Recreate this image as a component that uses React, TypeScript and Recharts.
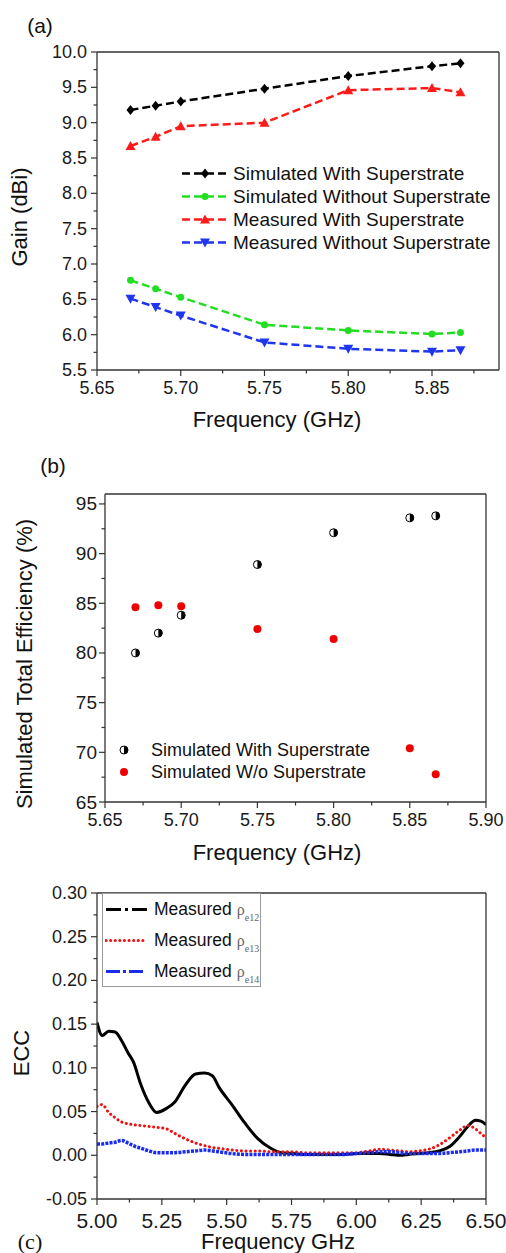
import React from 'react';
import { LineChart, Line, ScatterChart, Scatter, XAxis, YAxis, Legend } from 'recharts';

const FONT = 'Arial, "Liberation Sans", Helvetica, sans-serif';
const AXIS = '#333';

// (a) gain vs frequency
const gainFreq = [5.67, 5.685, 5.7, 5.75, 5.8, 5.85, 5.867];
const simWith = [9.18, 9.24, 9.3, 9.48, 9.66, 9.8, 9.84];
const simWithout = [6.77, 6.65, 6.53, 6.14, 6.06, 6.01, 6.03];
const measWith = [8.67, 8.8, 8.95, 9.0, 9.46, 9.49, 9.43];
const measWithout = [6.51, 6.39, 6.27, 5.89, 5.8, 5.76, 5.78];
const gainLabels = [
  'Simulated With Superstrate',
  'Simulated Without Superstrate',
  'Measured With Superstrate',
  'Measured Without Superstrate',
];
const gainXMajor = [5.65, 5.7, 5.75, 5.8, 5.85];
const gainXMinor = [5.675, 5.725, 5.775, 5.825, 5.875];
const gainYMajor = [5.5, 6.0, 6.5, 7.0, 7.5, 8.0, 8.5, 9.0, 9.5, 10.0];
const gainYMinor = [5.75, 6.25, 6.75, 7.25, 7.75, 8.25, 8.75, 9.25, 9.75];

// (b) simulated total efficiency
const effFreq = [5.67, 5.685, 5.7, 5.75, 5.8, 5.85, 5.867];
const effWith = [80.0, 82.0, 83.8, 88.9, 92.1, 93.6, 93.8];
const effWithout = [84.6, 84.8, 84.7, 82.4, 81.4, 70.4, 67.8];
const effLabels = ['Simulated With Superstrate', 'Simulated W/o Superstrate'];
const effXMajor = [5.65, 5.7, 5.75, 5.8, 5.85, 5.9];
const effXMinor = [5.675, 5.725, 5.775, 5.825, 5.875];
const effYMajor = [65, 70, 75, 80, 85, 90, 95];
const effYMinor = [67.5, 72.5, 77.5, 82.5, 87.5, 92.5];

// (c) envelope correlation coefficient
const eccFreq = [
  5.0, 5.02, 5.045, 5.07, 5.095, 5.12, 5.14, 5.17, 5.2, 5.23, 5.27, 5.3, 5.34, 5.38,
  5.415, 5.445, 5.47, 5.52, 5.57, 5.62, 5.67, 5.71, 5.76, 5.8, 5.85, 5.9, 5.95, 6.0,
  6.05, 6.09, 6.13, 6.17, 6.2, 6.24, 6.28, 6.32, 6.36, 6.4, 6.43, 6.46, 6.48, 6.5,
];
const ecc12 = [
  0.152, 0.137, 0.142, 0.141, 0.131, 0.117, 0.107, 0.08, 0.06, 0.049, 0.054, 0.061, 0.08, 0.093,
  0.094, 0.091, 0.078, 0.058, 0.037, 0.019, 0.008, 0.003, 0.002, 0.001, 0.001, 0.001, 0.001, 0.002,
  0.002, 0.002, 0.001, 0.0, 0.001, 0.002, 0.003, 0.005, 0.01, 0.022, 0.033, 0.04, 0.039, 0.035,
];
const ecc13 = [
  0.056, 0.058, 0.049, 0.043, 0.038, 0.036, 0.035, 0.034, 0.033, 0.032, 0.03, 0.025, 0.019, 0.014,
  0.011, 0.009, 0.008, 0.006, 0.005, 0.005, 0.004, 0.004, 0.004, 0.003, 0.003, 0.003, 0.003, 0.003,
  0.005, 0.007, 0.006, 0.005, 0.004, 0.005, 0.007, 0.012, 0.02, 0.029, 0.034, 0.03, 0.025, 0.02,
];
const ecc14 = [
  0.013, 0.013, 0.014, 0.015, 0.017, 0.014, 0.011, 0.008, 0.005, 0.003, 0.003, 0.003, 0.004, 0.005,
  0.006, 0.005, 0.004, 0.002, 0.001, 0.001, 0.001, 0.001, 0.001, 0.001, 0.001, 0.001, 0.001, 0.002,
  0.003, 0.004, 0.004, 0.003, 0.002, 0.002, 0.002, 0.002, 0.003, 0.004, 0.005, 0.006, 0.006, 0.006,
];
const eccSubs = ['e12', 'e13', 'e14'];
const eccXMajor = [5.0, 5.25, 5.5, 5.75, 6.0, 6.25, 6.5];
const eccXMinor = [5.125, 5.375, 5.625, 5.875, 6.125, 6.375];
const eccYMajor = [-0.05, 0, 0.05, 0.1, 0.15, 0.2, 0.25, 0.3];
const eccYMinor = [-0.025, 0.025, 0.075, 0.125, 0.175, 0.225, 0.275];

const gainData = gainFreq.map((f, i) => ({
  f,
  sw: simWith[i],
  swo: simWithout[i],
  mw: measWith[i],
  mwo: measWithout[i],
}));
const effWithData = effFreq.map((f, i) => ({ f, v: effWith[i] }));
const effWithoutData = effFreq.map((f, i) => ({ f, v: effWithout[i] }));
const eccData = eccFreq.map((f, i) => ({ f, a: ecc12[i], b: ecc13[i], c: ecc14[i] }));

const allTicks = (a: number[], b: number[]) => [...a, ...b].sort((x, y) => x - y);

type Side = 'left' | 'right' | 'bottom';

// draws tick marks (major/minor) and labels for majors
const makeTick =
  (side: Side, majors: number[], fmt: ((v: number) => string) | null, fontSize = 18, gap = 10) =>
  (props: any) => {
    const { x, y, payload, index } = props;
    const v = payload.value;
    const major = majors.some((m) => Math.abs(m - v) < 1e-6);
    const len = major ? 6 : 3.5;
    let line;
    let label = null;
    if (side === 'left') {
      line = <line x1={x} y1={y} x2={x - len} y2={y} />;
      if (major && fmt)
        label = (
          <text x={x - gap} y={y} textAnchor="end" dominantBaseline="central">
            {fmt(v)}
          </text>
        );
    } else if (side === 'right') {
      line = <line x1={x} y1={y} x2={x - len} y2={y} />;
    } else {
      line = <line x1={x} y1={y} x2={x} y2={y + len} />;
      if (major && fmt)
        label = (
          <text x={x} y={y + gap} textAnchor="middle" dominantBaseline="central">
            {fmt(v)}
          </text>
        );
    }
    return (
      <g key={index}>
        <g stroke={AXIS} strokeWidth={1.2}>{line}</g>
        <g fill="#1a1a1a" fontSize={fontSize} fontFamily={FONT}>{label}</g>
      </g>
    );
  };

const axisLine = { stroke: AXIS, strokeWidth: 1.3 };

const Diamond = ({ cx, cy, color }: any) => (
  <path d={`M${cx},${cy - 5} L${cx + 4},${cy} L${cx},${cy + 5} L${cx - 4},${cy} Z`} fill={color} />
);
const Dot = ({ cx, cy, color }: any) => <circle cx={cx} cy={cy} r={3.5} fill={color} />;
const TriUp = ({ cx, cy, color }: any) => (
  <path d={`M${cx},${cy - 5} L${cx + 5},${cy + 4} L${cx - 5},${cy + 4} Z`} fill={color} />
);
const TriDown = ({ cx, cy, color }: any) => (
  <path d={`M${cx},${cy + 5} L${cx + 5},${cy - 4} L${cx - 5},${cy - 4} Z`} fill={color} />
);
const HalfDot = ({ cx, cy }: any) => (
  <g>
    <circle cx={cx} cy={cy} r={4} fill="#fff" stroke="#000" strokeWidth={1} />
    <path d={`M ${cx} ${cy - 4} A 4 4 0 0 1 ${cx} ${cy + 4} Z`} fill="#000" />
  </g>
);
const RedDot = ({ cx, cy }: any) => <circle cx={cx} cy={cy} r={4} fill="#ee0000" />;

const gainSeries = [
  { key: 'sw', color: '#000000', Marker: Diamond },
  { key: 'swo', color: '#22dd22', Marker: Dot },
  { key: 'mw', color: '#ff1a1a', Marker: TriUp },
  { key: 'mwo', color: '#1f35ee', Marker: TriDown },
];

const eccSeries = [
  { key: 'a', color: '#000000', width: 3, dash: undefined, legendDash: '15 4 3 4 15' },
  { key: 'b', color: '#ee1111', width: 3, dash: '0.1 4.5', legendDash: '0.1 4.5' },
  { key: 'c', color: '#1a2cf0', width: 3.5, dash: '3 1.2', legendDash: '14 3 3 3 14' },
];

const GainLegend = () => (
  <div style={{ fontFamily: FONT, fontSize: 19, color: '#111' }}>
    {gainSeries.map((s, i) => (
      <div key={s.key} style={{ display: 'flex', alignItems: 'center', height: 23 }}>
        <svg width={46} height={23}>
          <line x1={0} y1={11.5} x2={46} y2={11.5} stroke={s.color} strokeWidth={2.5} strokeDasharray="8 4" />
          <s.Marker cx={23} cy={11.5} color={s.color} />
        </svg>
        <span style={{ marginLeft: 5, whiteSpace: 'nowrap' }}>{gainLabels[i]}</span>
      </div>
    ))}
  </div>
);

const EffLegend = () => (
  <div style={{ fontFamily: FONT, fontSize: 18, color: '#111' }}>
    {effLabels.map((l, i) => (
      <div key={l} style={{ display: 'flex', alignItems: 'center', height: 22 }}>
        <svg width={24} height={22}>{i === 0 ? <HalfDot cx={12} cy={11} /> : <RedDot cx={12} cy={11} />}</svg>
        <span style={{ marginLeft: 15, whiteSpace: 'nowrap' }}>{l}</span>
      </div>
    ))}
  </div>
);

const EccLegend = () => (
  <div
    style={{
      fontFamily: FONT,
      fontSize: 17.5,
      color: '#111',
      width: 157,
      height: 92,
      border: '1px solid #9a9a9a',
      background: '#fff',
    }}
  >
    {eccSeries.map((s, i) => (
      <div key={s.key} style={{ display: 'flex', alignItems: 'center', height: 31 }}>
        <svg width={44} height={31} style={{ marginLeft: 2 }}>
          <line x1={1} y1={15.5} x2={42} y2={15.5} stroke={s.color} strokeWidth={3} strokeDasharray={s.legendDash} strokeLinecap={s.key === 'b' ? 'round' : 'butt'} />
        </svg>
        <span style={{ marginLeft: 5, whiteSpace: 'nowrap' }}>Measured</span>
        <span style={{ marginLeft: 5, fontFamily: '"Liberation Serif", "Times New Roman", serif', color: '#666', fontSize: 16 }}>
          ρ<span style={{ fontSize: 10, position: 'relative', top: 6 }}>{eccSubs[i]}</span>
        </span>
      </div>
    ))}
  </div>
);

const Title = ({ x, y, text, rotate = false, size = 22, serif = false }: any) => (
  <div
    style={{
      position: 'absolute',
      left: x,
      top: y,
      transform: `translate(-50%, -50%)${rotate ? ' rotate(-90deg)' : ''}`,
      fontFamily: serif ? '"Liberation Serif", "Times New Roman", serif' : FONT,
      fontSize: size,
      lineHeight: `${size}px`,
      whiteSpace: 'nowrap',
      color: '#111',
    }}
  >
    {text}
  </div>
);

// shared axis props (1px-thick axis boxes so that they still get drawn)
const xBottom = (domain: number[], majors: number[], minors: number[], fmt: (v: number) => string, fs: number, gap: number) => ({
  dataKey: 'f',
  type: 'number' as const,
  domain,
  allowDataOverflow: true,
  ticks: allTicks(majors, minors),
  interval: 0,
  height: 1,
  tickSize: 0,
  tickMargin: 0,
  tickLine: false,
  axisLine,
  tick: makeTick('bottom', majors, fmt, fs, gap),
});

export default function App() {
  return (
    <div style={{ position: 'absolute', left: 0, top: 0, width: 506, height: 1253, background: '#fff', overflow: 'hidden' }}>
      {/* (a) */}
      <div style={{ position: 'absolute', left: 0, top: 0 }}>
        <LineChart width={506} height={430} data={gainData} margin={{ top: 51, right: 6, bottom: 59, left: 96 }}>
          <XAxis {...xBottom([5.65, 5.89], gainXMajor, gainXMinor, (v) => v.toFixed(2), 18, 18)} />
          <XAxis xAxisId="t" dataKey="f" orientation="top" type="number" domain={[5.65, 5.89]} height={1} tick={false} tickLine={false} axisLine={axisLine} />
          <YAxis
            type="number"
            domain={[5.5, 10]}
            allowDataOverflow
            ticks={allTicks(gainYMajor, gainYMinor)}
            interval={0}
            width={1}
            tickSize={0}
            tickMargin={0}
            tickLine={false}
            axisLine={axisLine}
            tick={makeTick('left', gainYMajor, (v) => v.toFixed(1), 18, 10)}
          />
          <YAxis
            yAxisId="r"
            orientation="right"
            type="number"
            domain={[5.5, 10]}
            ticks={allTicks(gainYMajor, gainYMinor)}
            interval={0}
            width={1}
            tickSize={0}
            tickMargin={0}
            tickLine={false}
            axisLine={axisLine}
            tick={makeTick('right', gainYMajor, null)}
          />
          {gainSeries.map((s) => (
            <Line
              key={s.key}
              dataKey={s.key}
              type="linear"
              stroke={s.color}
              strokeWidth={2.5}
              strokeDasharray="8 4"
              isAnimationActive={false}
              dot={(p: any) => <s.Marker key={p.index} cx={p.cx} cy={p.cy} color={s.color} />}
              activeDot={false}
            />
          ))}
          <Legend
            layout="vertical"
            align="center"
            verticalAlign="middle"
            content={() => <GainLegend />}
            wrapperStyle={{ left: 182, top: 162, width: 320 }}
          />
        </LineChart>
      </div>
      <Title x={40} y={25} text="(a)" size={21} />
      <Title x={20} y={217} text="Gain (dBi)" rotate />
      <Title x={277} y={420} text="Frequency (GHz)" />

      {/* (b) */}
      <div style={{ position: 'absolute', left: 0, top: 430 }}>
        <ScatterChart width={506} height={410} margin={{ top: 63, right: 19, bottom: 37, left: 104 }}>
          <XAxis {...xBottom([5.65, 5.9], effXMajor, effXMinor, (v) => v.toFixed(2), 18, 18)} />
          <XAxis xAxisId="t" dataKey="f" orientation="top" type="number" domain={[5.65, 5.9]} height={1} tick={false} tickLine={false} axisLine={axisLine} />
          <YAxis
            dataKey="v"
            type="number"
            domain={[65, 96]}
            allowDataOverflow
            ticks={allTicks(effYMajor, effYMinor)}
            interval={0}
            width={1}
            tickSize={0}
            tickMargin={0}
            tickLine={false}
            axisLine={axisLine}
            tick={makeTick('left', effYMajor, (v) => String(v), 19, 8)}
          />
          <YAxis
            yAxisId="r"
            dataKey="v"
            orientation="right"
            type="number"
            domain={[65, 96]}
            ticks={allTicks(effYMajor, effYMinor)}
            interval={0}
            width={1}
            tickSize={0}
            tickMargin={0}
            tickLine={false}
            axisLine={axisLine}
            tick={makeTick('right', effYMajor, null)}
          />
          <Scatter data={effWithData} isAnimationActive={false} shape={(p: any) => <HalfDot cx={p.cx} cy={p.cy} />} />
          <Scatter data={effWithoutData} isAnimationActive={false} shape={(p: any) => <RedDot cx={p.cx} cy={p.cy} />} />
          <Legend
            layout="vertical"
            align="center"
            verticalAlign="middle"
            content={() => <EffLegend />}
            wrapperStyle={{ left: 112, top: 309, width: 300 }}
          />
        </ScatterChart>
      </div>
      <Title x={53} y={465} text="(b)" size={21} />
      <Title x={25} y={664} text="Simulated Total Efficiency (%)" rotate />
      <Title x={277} y={853} text="Frequency (GHz)" />

      {/* (c) */}
      <div style={{ position: 'absolute', left: 0, top: 840 }}>
        <LineChart width={506} height={413} data={eccData} margin={{ top: 52, right: 19, bottom: 53, left: 96 }}>
          <XAxis {...xBottom([5.0, 6.5], eccXMajor, eccXMinor, (v) => v.toFixed(2), 21, 21)} />
          <XAxis xAxisId="t" dataKey="f" orientation="top" type="number" domain={[5.0, 6.5]} height={1} tick={false} tickLine={false} axisLine={axisLine} />
          <YAxis
            type="number"
            domain={[-0.05, 0.3]}
            allowDataOverflow
            ticks={allTicks(eccYMajor, eccYMinor)}
            interval={0}
            width={1}
            tickSize={0}
            tickMargin={0}
            tickLine={false}
            axisLine={axisLine}
            tick={makeTick('left', eccYMajor, (v) => v.toFixed(2), 18, 10)}
          />
          <YAxis
            yAxisId="r"
            orientation="right"
            type="number"
            domain={[-0.05, 0.3]}
            ticks={allTicks(eccYMajor, eccYMinor)}
            interval={0}
            width={1}
            tickSize={0}
            tickMargin={0}
            tickLine={false}
            axisLine={axisLine}
            tick={makeTick('right', eccYMajor, null)}
          />
          {eccSeries.map((s) => (
            <Line
              key={s.key}
              dataKey={s.key}
              type="monotone"
              stroke={s.color}
              strokeWidth={s.width}
              strokeDasharray={s.dash}
              strokeLinecap={s.key === 'b' ? 'round' : 'butt'}
              dot={false}
              activeDot={false}
              isAnimationActive={false}
            />
          ))}
          <Legend
            layout="vertical"
            align="center"
            verticalAlign="middle"
            content={() => <EccLegend />}
            wrapperStyle={{ left: 102, top: 53, width: 160 }}
          />
        </LineChart>
      </div>
      <Title x={30} y={1242} text="(c)" size={22} serif />
      <Title x={22} y={1053} text="ECC" rotate />
      <Title x={278} y={1242} text="Frequency GHz" />
    </div>
  );
}
